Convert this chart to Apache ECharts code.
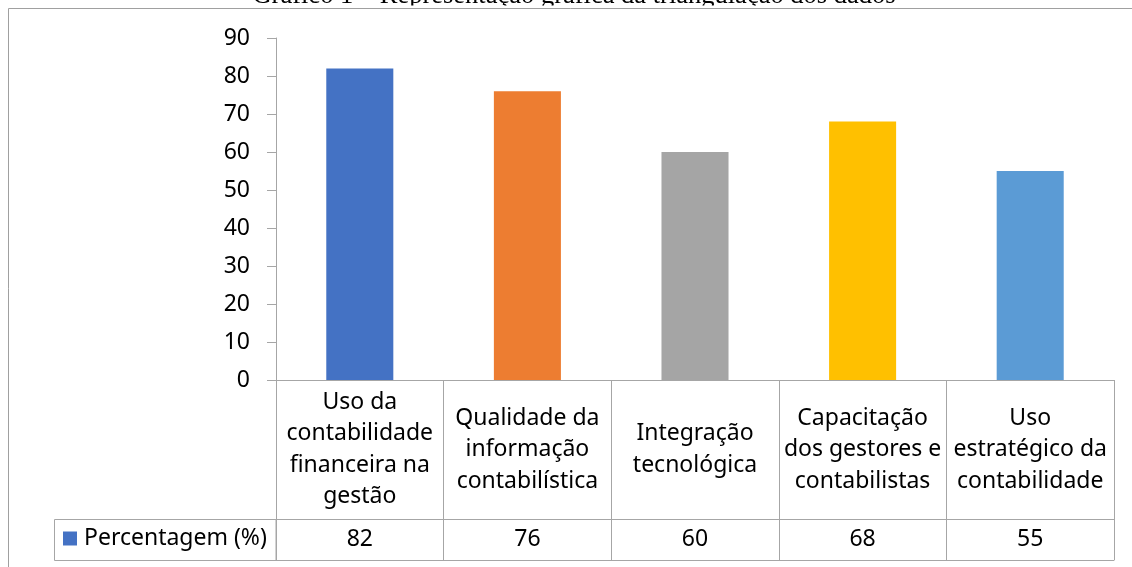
<!DOCTYPE html>
<html>
<head>
<meta charset="utf-8">
<script src="https://cdn.jsdelivr.net/npm/echarts@6/dist/echarts.min.js"></script>
<style>
html,body{margin:0;padding:0;background:#fff;}
#chart{width:1132px;height:567px;}
</style>
</head>
<body>
<div id="chart"></div>
<script>
const titleText = 'Gráfico 1 – Representação gráfica da triangulação dos dados';
const seriesName = 'Percentagem (%)';
const categories = [
  'Uso da\ncontabilidade\nfinanceira na\ngestão',
  'Qualidade da\ninformação\ncontabilística',
  'Integração\ntecnológica',
  'Capacitação\ndos gestores e\ncontabilistas',
  'Uso\nestratégico da\ncontabilidade'
];
const values = [82, 76, 60, 68, 55];
const yMin = 0, yMax = 90, yStep = 10;

const palette = ['#4472C4', '#ED7D31', '#A5A5A5', '#FFC000', '#5B9BD5'];
const FONT = '"Noto Sans", sans-serif';
const lineCol = '#a6a6a6';

const chart = echarts.init(document.getElementById('chart'), null, {renderer: 'canvas'});
chart.setOption({
  animation: false,
  color: palette,
  grid: {left: 276, right: 18, top: 38, bottom: 187, containLabel: false},
  legend: {
    data: [{name: seriesName, icon: 'rect', itemStyle: {color: palette[0]}}],
    left: 63, top: 527, padding: 0,
    itemWidth: 14, itemHeight: 14,
    textStyle: {fontFamily: FONT, fontSize: 23, color: '#000', padding: [0, 0, 0, 2]},
    selectedMode: false
  },
  xAxis: [
    {
      type: 'category', data: categories, position: 'bottom',
      axisLine: {show: true, lineStyle: {color: lineCol, width: 1}},
      axisTick: {show: true, alignWithLabel: false, length: 139, lineStyle: {color: lineCol}},
      axisLabel: {interval: 0, fontFamily: FONT, fontSize: 23, lineHeight: 31.5, color: '#000',
                  verticalAlign: 'middle', align: 'center', margin: 69.5},
      splitLine: {show: false}
    },
    {
      type: 'category', data: values.map(String), position: 'bottom', offset: 139,
      axisLine: {show: true, lineStyle: {color: lineCol, width: 1}},
      axisTick: {show: true, alignWithLabel: false, length: 41, lineStyle: {color: lineCol}},
      axisLabel: {interval: 0, fontFamily: FONT, fontSize: 23, color: '#000',
                  verticalAlign: 'middle', align: 'center', margin: 20.5},
      splitLine: {show: false}
    },
    {
      type: 'category', data: values.map(String), position: 'bottom', offset: 180,
      axisLine: {show: true, lineStyle: {color: lineCol, width: 1}},
      axisTick: {show: false}, axisLabel: {show: false}, splitLine: {show: false}
    }
  ],
  yAxis: {
    type: 'value', min: yMin, max: yMax, interval: yStep,
    axisLine: {show: true, lineStyle: {color: lineCol, width: 1}},
    axisTick: {show: true, length: 9, lineStyle: {color: lineCol}},
    axisLabel: {fontFamily: FONT, fontSize: 23, color: '#000', margin: 26},
    splitLine: {show: false}
  },
  series: [{
    name: seriesName, type: 'bar', xAxisIndex: 0, barWidth: '40%',
    itemStyle: {color: palette[0]},
    data: values.map((v, i) => ({value: v, itemStyle: {color: palette[i % palette.length]}}))
  }],
  graphic: [
    {type: 'text', z: 1, style: {text: titleText, x: 574, y: -3.5, align: 'center', verticalAlign: 'middle',
      font: '26.5px "Liberation Serif", serif', fill: '#000'}},
    {type: 'rect', z: 2, shape: {x: 0, y: 5.5, width: 1132, height: 2.5}, style: {fill: '#fff'}},
    {type: 'rect', z: 3, shape: {x: 8.5, y: 8.5, width: 1140, height: 600}, style: {fill: 'none', stroke: '#a0a0a0', lineWidth: 1}},
    {type: 'rect', z: 3, shape: {x: 54.5, y: 519.5, width: 221.5, height: 41}, style: {fill: 'none', stroke: lineCol, lineWidth: 1}}
  ]
});
</script>
</body>
</html>
